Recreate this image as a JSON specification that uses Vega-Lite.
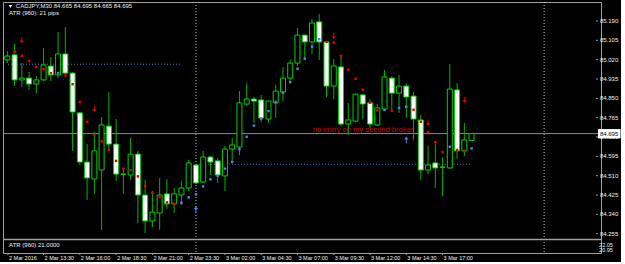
{
  "$schema": "https://vega.github.io/schema/vega-lite/v6.json",
  "background": "#000000",
  "padding": {"left": 2, "top": 1, "right": 0, "bottom": 0},
  "width": 598,
  "height": 251,
  "config": {
    "view": {"stroke": "#a0a0a0", "strokeWidth": 1},
    "text": {"font": "Liberation Sans"}
  },
  "datasets": {
    "candles": [
      {"i":0,"o":85.019,"h":85.058,"l":85.005,"c":85.036},
      {"i":1,"o":85.041,"h":85.089,"l":84.904,"c":84.931},
      {"i":2,"o":84.931,"h":85.005,"l":84.900,"c":84.939},
      {"i":3,"o":84.939,"h":84.966,"l":84.887,"c":84.913},
      {"i":4,"o":84.913,"h":84.948,"l":84.873,"c":84.931},
      {"i":5,"o":84.931,"h":85.071,"l":84.926,"c":84.997},
      {"i":6,"o":84.992,"h":85.032,"l":84.926,"c":84.953},
      {"i":7,"o":84.953,"h":85.142,"l":84.939,"c":85.045},
      {"i":8,"o":85.045,"h":85.164,"l":84.957,"c":84.961},
      {"i":9,"o":84.961,"h":84.966,"l":84.619,"c":84.790},
      {"i":10,"o":84.786,"h":84.790,"l":84.557,"c":84.570},
      {"i":11,"o":84.570,"h":84.649,"l":84.403,"c":84.500},
      {"i":12,"o":84.495,"h":84.702,"l":84.430,"c":84.619},
      {"i":13,"o":84.535,"h":84.768,"l":84.271,"c":84.733},
      {"i":14,"o":84.728,"h":84.878,"l":84.627,"c":84.649},
      {"i":15,"o":84.649,"h":84.759,"l":84.487,"c":84.517},
      {"i":16,"o":84.516,"h":84.544,"l":84.430,"c":84.517},
      {"i":17,"o":84.513,"h":84.676,"l":84.491,"c":84.605},
      {"i":18,"o":84.605,"h":84.619,"l":84.302,"c":84.425},
      {"i":19,"o":84.425,"h":84.491,"l":84.258,"c":84.311},
      {"i":20,"o":84.311,"h":84.443,"l":84.284,"c":84.350},
      {"i":21,"o":84.346,"h":84.500,"l":84.271,"c":84.425},
      {"i":22,"o":84.430,"h":84.495,"l":84.364,"c":84.386},
      {"i":23,"o":84.386,"h":84.456,"l":84.346,"c":84.430},
      {"i":24,"o":84.425,"h":84.487,"l":84.381,"c":84.456},
      {"i":25,"o":84.456,"h":84.579,"l":84.443,"c":84.566},
      {"i":26,"o":84.557,"h":84.561,"l":84.473,"c":84.478},
      {"i":27,"o":84.482,"h":84.619,"l":84.478,"c":84.592},
      {"i":28,"o":84.592,"h":84.597,"l":84.513,"c":84.570},
      {"i":29,"o":84.575,"h":84.588,"l":84.478,"c":84.513},
      {"i":30,"o":84.509,"h":84.641,"l":84.443,"c":84.627},
      {"i":31,"o":84.627,"h":84.676,"l":84.570,"c":84.645},
      {"i":32,"o":84.636,"h":84.882,"l":84.601,"c":84.830},
      {"i":33,"o":84.825,"h":84.917,"l":84.816,"c":84.847},
      {"i":34,"o":84.847,"h":84.856,"l":84.742,"c":84.838},
      {"i":35,"o":84.843,"h":84.865,"l":84.746,"c":84.764},
      {"i":36,"o":84.759,"h":84.838,"l":84.742,"c":84.838},
      {"i":37,"o":84.830,"h":84.909,"l":84.764,"c":84.882},
      {"i":38,"o":84.878,"h":84.988,"l":84.838,"c":84.939},
      {"i":39,"o":84.939,"h":85.019,"l":84.922,"c":85.005},
      {"i":40,"o":85.005,"h":85.159,"l":84.992,"c":85.128},
      {"i":41,"o":85.128,"h":85.128,"l":85.023,"c":85.098},
      {"i":42,"o":85.098,"h":85.199,"l":85.045,"c":85.181},
      {"i":43,"o":85.186,"h":85.221,"l":85.019,"c":85.098},
      {"i":44,"o":85.098,"h":85.098,"l":84.856,"c":84.904},
      {"i":45,"o":84.904,"h":85.023,"l":84.847,"c":84.992},
      {"i":46,"o":84.988,"h":85.041,"l":84.728,"c":84.737},
      {"i":47,"o":84.737,"h":84.830,"l":84.689,"c":84.755},
      {"i":48,"o":84.750,"h":84.869,"l":84.746,"c":84.869},
      {"i":49,"o":84.865,"h":84.869,"l":84.759,"c":84.825},
      {"i":50,"o":84.830,"h":84.847,"l":84.720,"c":84.737},
      {"i":51,"o":84.733,"h":84.825,"l":84.728,"c":84.808},
      {"i":52,"o":84.803,"h":84.975,"l":84.803,"c":84.944},
      {"i":53,"o":84.939,"h":84.948,"l":84.794,"c":84.873},
      {"i":54,"o":84.873,"h":84.953,"l":84.786,"c":84.904},
      {"i":55,"o":84.904,"h":84.917,"l":84.764,"c":84.856},
      {"i":56,"o":84.860,"h":84.878,"l":84.667,"c":84.759},
      {"i":57,"o":84.755,"h":84.777,"l":84.491,"c":84.535},
      {"i":58,"o":84.535,"h":84.641,"l":84.517,"c":84.557},
      {"i":59,"o":84.566,"h":84.649,"l":84.456,"c":84.544},
      {"i":60,"o":84.548,"h":84.592,"l":84.421,"c":84.547},
      {"i":61,"o":84.544,"h":85.001,"l":84.539,"c":84.891},
      {"i":62,"o":84.887,"h":84.917,"l":84.583,"c":84.619},
      {"i":63,"o":84.619,"h":84.742,"l":84.597,"c":84.667},
      {"i":64,"o":84.665,"h":84.695,"l":84.665,"c":84.695}
    ],
    "dots": [
      {"i":1,"v":85.054,"side":"red"},{"i":2,"v":85.037,"side":"red"},{"i":3,"v":85.014,"side":"red"},
      {"i":4,"v":84.988,"side":"red"},{"i":5,"v":84.978,"side":"red"},{"i":6,"v":84.961,"side":"red"},
      {"i":7,"v":84.961,"side":"blue"},{"i":8,"v":84.951,"side":"red"},{"i":9,"v":84.912,"side":"red"},
      {"i":10,"v":84.834,"side":"red"},{"i":11,"v":84.747,"side":"red"},{"i":12,"v":84.690,"side":"red"},
      {"i":13,"v":84.661,"side":"red"},{"i":14,"v":84.624,"side":"red"},{"i":15,"v":84.575,"side":"red"},
      {"i":16,"v":84.541,"side":"red"},{"i":17,"v":84.534,"side":"red"},{"i":18,"v":84.507,"side":"red"},
      {"i":19,"v":84.465,"side":"red"},{"i":20,"v":84.434,"side":"red"},{"i":21,"v":84.416,"side":"red"},
      {"i":22,"v":84.393,"side":"red"},{"i":23,"v":84.387,"side":"red"},{"i":24,"v":84.391,"side":"blue"},
      {"i":25,"v":84.415,"side":"blue"},{"i":26,"v":84.428,"side":"blue"},{"i":27,"v":84.463,"side":"blue"},
      {"i":28,"v":84.494,"side":"blue"},{"i":29,"v":84.510,"side":"blue"},{"i":30,"v":84.541,"side":"blue"},
      {"i":31,"v":84.570,"side":"blue"},{"i":32,"v":84.626,"side":"blue"},{"i":33,"v":84.681,"side":"blue"},
      {"i":34,"v":84.730,"side":"blue"},{"i":35,"v":84.761,"side":"blue"},{"i":36,"v":84.794,"side":"blue"},
      {"i":37,"v":84.834,"side":"blue"},{"i":38,"v":84.875,"side":"blue"},{"i":39,"v":84.921,"side":"blue"},
      {"i":40,"v":84.980,"side":"blue"},{"i":41,"v":85.024,"side":"blue"},{"i":42,"v":85.077,"side":"blue"},
      {"i":43,"v":85.110,"side":"blue"},{"i":44,"v":85.098,"side":"red"},{"i":45,"v":85.095,"side":"red"},
      {"i":46,"v":85.036,"side":"red"},{"i":47,"v":84.976,"side":"red"},{"i":48,"v":84.936,"side":"red"},
      {"i":49,"v":84.888,"side":"red"},{"i":50,"v":84.831,"side":"red"},{"i":51,"v":84.797,"side":"red"},
      {"i":52,"v":84.799,"side":"blue"},{"i":53,"v":84.796,"side":"red"},{"i":54,"v":84.808,"side":"blue"},
      {"i":55,"v":84.813,"side":"blue"},{"i":56,"v":84.800,"side":"red"},{"i":57,"v":84.747,"side":"red"},
      {"i":58,"v":84.702,"side":"red"},{"i":59,"v":84.657,"side":"red"},{"i":60,"v":84.614,"side":"red"},
      {"i":61,"v":84.637,"side":"blue"},{"i":62,"v":84.623,"side":"red"},{"i":63,"v":84.619,"side":"red"},
      {"i":64,"v":84.630,"side":"blue"}
    ],
    "arrows": [
      {"i":2,"v":85.106,"dir":"down"},{"i":12,"v":84.804,"dir":"down"},{"i":45,"v":85.124,"dir":"down"},
      {"i":58,"v":84.743,"dir":"down"},{"i":63,"v":84.843,"dir":"down"},
      {"i":26,"v":84.362,"dir":"up"},{"i":55,"v":84.667,"dir":"up"}
    ],
    "levels": [
      {"x0":0.095,"x1":23.8,"v":85.000},
      {"x0":26,"x1":63.9,"v":84.560}
    ],
    "seps": [{"i":26},{"i":74}],
    "panel": [{"v":84.2295}],
    "bid": [{"v":84.695,"label":"84.695"}],
    "header": [
      {"i":1.18,"v":85.254,"label":"CADJPY,M30 84.665 84.695 84.665 84.695"},
      {"i":0.23,"v":85.227,"label":"ATR (960): 21 pips"},
      {"i":0.25,"v":84.2053,"label":"ATR (960) 21.0000"}
    ],
    "pricescale": [
      {"v":85.190,"label":"85.190"},{"v":85.105,"label":"85.105"},{"v":85.020,"label":"85.020"},
      {"v":84.935,"label":"84.935"},{"v":84.850,"label":"84.850"},{"v":84.765,"label":"84.765"},
      {"v":84.680,"label":"84.680"},{"v":84.595,"label":"84.595"},{"v":84.510,"label":"84.510"},
      {"v":84.425,"label":"84.425"},{"v":84.340,"label":"84.340"},{"v":84.255,"label":"84.255"}
    ],
    "atrscale": [
      {"v":84.2053,"label":"22.05"},
      {"v":84.1833,"label":"20.95"}
    ],
    "times": [
      {"i":0.095,"label":"2 Mar 2016"},{"i":5,"label":"2 Mar 13:30"},{"i":10,"label":"2 Mar 16:00"},
      {"i":15,"label":"2 Mar 18:30"},{"i":20,"label":"2 Mar 21:00"},{"i":25,"label":"2 Mar 23:30"},
      {"i":30,"label":"3 Mar 02:00"},{"i":35,"label":"3 Mar 04:30"},{"i":40,"label":"3 Mar 07:00"},
      {"i":45,"label":"3 Mar 09:30"},{"i":50,"label":"3 Mar 12:00"},{"i":55,"label":"3 Mar 14:30"},
      {"i":60,"label":"3 Mar 17:00"}
    ],
    "marker": [{"i":0.43,"v":85.254}],
    "note": [{"i":42.11,"v":84.704,"label":"no entry on my second broker"}]
  },
  "layer": [
    {
      "data": {"name": "levels"},
      "mark": {"type": "rule", "color": "#3a74c0", "strokeWidth": 1, "strokeDash": [1, 2]},
      "encoding": {
        "x": {"field": "x0", "type": "quantitative", "scale": {"domain": [0.095, 81.15], "nice": false, "zero": false}, "axis": null},
        "x2": {"field": "x1"},
        "y": {"field": "v", "type": "quantitative", "scale": {"domain": [84.17013, 85.2735], "nice": false, "zero": false}, "axis": null}
      }
    },
    {
      "data": {"name": "seps"},
      "mark": {"type": "rule", "color": "#c8c8c8", "strokeWidth": 1, "strokeDash": [1, 2]},
      "encoding": {
        "x": {"field": "i", "type": "quantitative", "scale": {"domain": [0.095, 81.15], "nice": false, "zero": false}, "axis": null}
      }
    },
    {
      "data": {"name": "panel"},
      "mark": {"type": "rule", "color": "#a0a0a0", "strokeWidth": 1.5},
      "encoding": {
        "y": {"field": "v", "type": "quantitative", "scale": {"domain": [84.17013, 85.2735], "nice": false, "zero": false}, "axis": null}
      }
    },
    {
      "data": {"name": "bid"},
      "mark": {"type": "rule", "color": "#8c8c8c", "strokeWidth": 1},
      "encoding": {
        "y": {"field": "v", "type": "quantitative", "scale": {"domain": [84.17013, 85.2735], "nice": false, "zero": false}, "axis": null}
      }
    },
    {
      "data": {"name": "candles"},
      "mark": {"type": "rule", "color": "#00b400", "strokeWidth": 1, "clip": true},
      "encoding": {
        "x": {"field": "i", "type": "quantitative", "scale": {"domain": [0.095, 81.15], "nice": false, "zero": false}, "axis": null},
        "y": {"field": "l", "type": "quantitative", "scale": {"domain": [84.17013, 85.2735], "nice": false, "zero": false}, "axis": null},
        "y2": {"field": "h"}
      }
    },
    {
      "data": {"name": "candles"},
      "mark": {"type": "bar", "width": 5, "stroke": "#00d000", "strokeWidth": 1, "clip": true},
      "encoding": {
        "x": {"field": "i", "type": "quantitative", "scale": {"domain": [0.095, 81.15], "nice": false, "zero": false}, "axis": null},
        "y": {"field": "o", "type": "quantitative", "scale": {"domain": [84.17013, 85.2735], "nice": false, "zero": false}, "axis": null},
        "y2": {"field": "c"},
        "fill": {"condition": {"test": "datum.c < datum.o", "value": "#ffffff"}, "value": "#000000"}
      }
    },
    {
      "data": {"name": "dots"},
      "mark": {"type": "point", "shape": "square", "filled": true, "size": 6, "opacity": 1},
      "encoding": {
        "x": {"field": "i", "type": "quantitative", "scale": {"domain": [0.095, 81.15], "nice": false, "zero": false}, "axis": null},
        "y": {"field": "v", "type": "quantitative", "scale": {"domain": [84.17013, 85.2735], "nice": false, "zero": false}, "axis": null},
        "color": {"field": "side", "type": "nominal", "scale": {"domain": ["red", "blue"], "range": ["#e80000", "#4f84f0"]}, "legend": null}
      }
    },
    {
      "data": {"name": "arrows"},
      "mark": {"type": "point", "filled": true, "size": 40, "opacity": 1},
      "encoding": {
        "x": {"field": "i", "type": "quantitative", "scale": {"domain": [0.095, 81.15], "nice": false, "zero": false}, "axis": null},
        "y": {"field": "v", "type": "quantitative", "scale": {"domain": [84.17013, 85.2735], "nice": false, "zero": false}, "axis": null},
        "shape": {"field": "dir", "type": "nominal", "scale": {"domain": ["down", "up"], "range": ["M-0.15,-1L0.15,-1L0.15,0.15L0.7,0.15L0,1L-0.7,0.15L-0.15,0.15Z", "M-0.15,1L0.15,1L0.15,-0.15L0.7,-0.15L0,-1L-0.7,-0.15L-0.15,-0.15Z"]}, "legend": null},
        "color": {"field": "dir", "type": "nominal", "scale": {"domain": ["down", "up"], "range": ["#c80000", "#0000d8"]}, "legend": null}
      }
    },
    {
      "data": {"name": "note"},
      "mark": {"type": "text", "align": "left", "baseline": "alphabetic", "fontSize": 7.6, "color": "#d00000"},
      "encoding": {
        "x": {"field": "i", "type": "quantitative", "scale": {"domain": [0.095, 81.15], "nice": false, "zero": false}, "axis": null},
        "y": {"field": "v", "type": "quantitative", "scale": {"domain": [84.17013, 85.2735], "nice": false, "zero": false}, "axis": null},
        "text": {"field": "label"}
      }
    },
    {
      "data": {"name": "header"},
      "mark": {"type": "text", "align": "left", "baseline": "middle", "fontSize": 6, "color": "#f0f0f0"},
      "encoding": {
        "x": {"field": "i", "type": "quantitative", "scale": {"domain": [0.095, 81.15], "nice": false, "zero": false}, "axis": null},
        "y": {"field": "v", "type": "quantitative", "scale": {"domain": [84.17013, 85.2735], "nice": false, "zero": false}, "axis": null},
        "text": {"field": "label"}
      }
    },
    {
      "data": {"name": "marker"},
      "mark": {"type": "point", "shape": "triangle-down", "filled": true, "size": 12, "color": "#f0f0f0", "opacity": 1},
      "encoding": {
        "x": {"field": "i", "type": "quantitative", "scale": {"domain": [0.095, 81.15], "nice": false, "zero": false}, "axis": null},
        "y": {"field": "v", "type": "quantitative", "scale": {"domain": [84.17013, 85.2735], "nice": false, "zero": false}, "axis": null}
      }
    },
    {
      "data": {"name": "times"},
      "mark": {"type": "rule", "color": "#a0a0a0", "strokeWidth": 1, "clip": false},
      "encoding": {
        "x": {"field": "i", "type": "quantitative", "scale": {"domain": [0.095, 81.15], "nice": false, "zero": false}, "axis": null},
        "y": {"datum": 84.17013, "type": "quantitative", "scale": {"domain": [84.17013, 85.2735], "nice": false, "zero": false}, "axis": null},
        "y2": {"datum": 84.1614}
      }
    },
    {
      "data": {"name": "times"},
      "mark": {"type": "text", "align": "left", "baseline": "top", "fontSize": 5.5, "color": "#f0f0f0", "dx": 1, "clip": false},
      "encoding": {
        "x": {"field": "i", "type": "quantitative", "scale": {"domain": [0.095, 81.15], "nice": false, "zero": false}, "axis": null},
        "y": {"datum": 84.157, "type": "quantitative", "scale": {"domain": [84.17013, 85.2735], "nice": false, "zero": false}, "axis": null},
        "text": {"field": "label"}
      }
    },
    {
      "data": {"name": "pricescale"},
      "mark": {"type": "rule", "color": "#a0a0a0", "strokeWidth": 1, "clip": false},
      "encoding": {
        "x": {"datum": 81.15, "type": "quantitative", "scale": {"domain": [0.095, 81.15], "nice": false, "zero": false}, "axis": null},
        "x2": {"datum": 81.42},
        "y": {"field": "v", "type": "quantitative", "scale": {"domain": [84.17013, 85.2735], "nice": false, "zero": false}, "axis": null}
      }
    },
    {
      "data": {"name": "pricescale"},
      "mark": {"type": "text", "align": "left", "baseline": "middle", "fontSize": 6, "color": "#f0f0f0", "clip": false},
      "encoding": {
        "x": {"datum": 81.69, "type": "quantitative", "scale": {"domain": [0.095, 81.15], "nice": false, "zero": false}, "axis": null},
        "y": {"field": "v", "type": "quantitative", "scale": {"domain": [84.17013, 85.2735], "nice": false, "zero": false}, "axis": null},
        "text": {"field": "label"}
      }
    },
    {
      "data": {"name": "atrscale"},
      "mark": {"type": "text", "align": "left", "baseline": "middle", "fontSize": 5.5, "color": "#f0f0f0", "clip": false},
      "encoding": {
        "x": {"datum": 81.58, "type": "quantitative", "scale": {"domain": [0.095, 81.15], "nice": false, "zero": false}, "axis": null},
        "y": {"field": "v", "type": "quantitative", "scale": {"domain": [84.17013, 85.2735], "nice": false, "zero": false}, "axis": null},
        "text": {"field": "label"}
      }
    },
    {
      "data": {"name": "bid"},
      "mark": {"type": "rect", "color": "#ffffff", "clip": false},
      "encoding": {
        "x": {"datum": 81.42, "type": "quantitative", "scale": {"domain": [0.095, 81.15], "nice": false, "zero": false}, "axis": null},
        "x2": {"datum": 84.53},
        "y": {"datum": 84.715, "type": "quantitative", "scale": {"domain": [84.17013, 85.2735], "nice": false, "zero": false}, "axis": null},
        "y2": {"datum": 84.674}
      }
    },
    {
      "data": {"name": "bid"},
      "mark": {"type": "text", "align": "left", "baseline": "middle", "fontSize": 6, "color": "#000000", "clip": false},
      "encoding": {
        "x": {"datum": 81.69, "type": "quantitative", "scale": {"domain": [0.095, 81.15], "nice": false, "zero": false}, "axis": null},
        "y": {"field": "v", "type": "quantitative", "scale": {"domain": [84.17013, 85.2735], "nice": false, "zero": false}, "axis": null},
        "text": {"field": "label"}
      }
    }
  ]
}
